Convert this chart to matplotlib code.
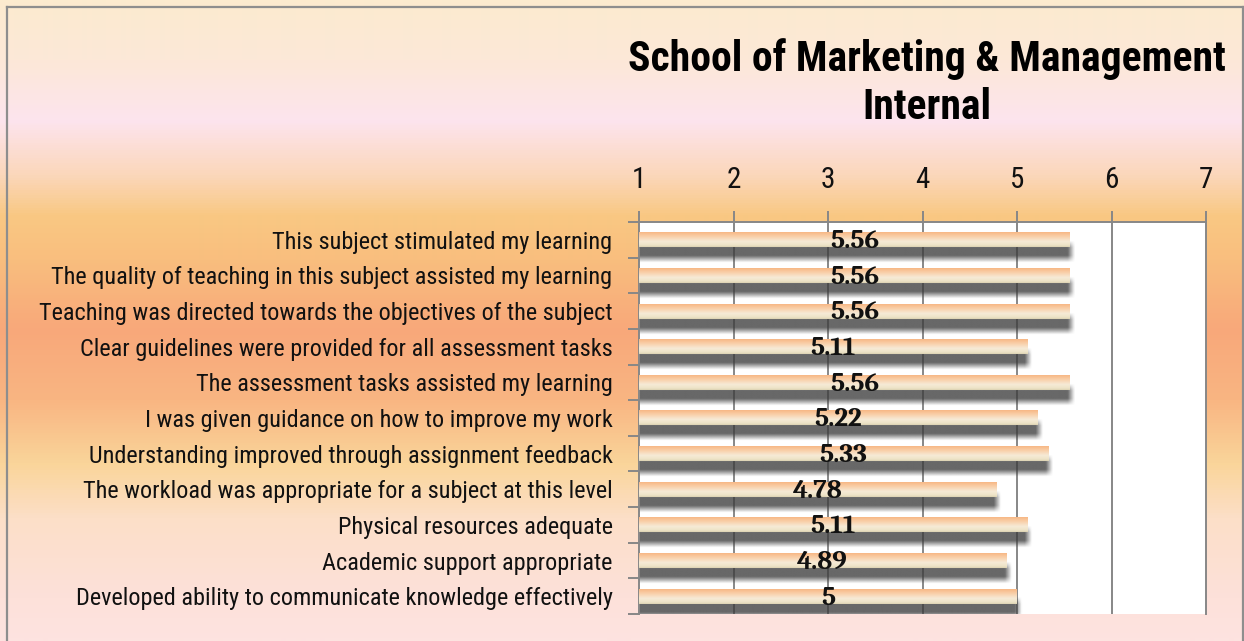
import numpy as np
import matplotlib
matplotlib.use("Agg")
import matplotlib.pyplot as plt
from matplotlib.colors import LinearSegmentedColormap, to_rgb
from matplotlib.lines import Line2D

# ---- data ----
categories = [
    "This subject stimulated my learning",
    "The quality of teaching in this subject assisted my learning",
    "Teaching was directed towards the objectives of the subject",
    "Clear guidelines were provided for all assessment tasks",
    "The assessment tasks assisted my learning",
    "I was given guidance on how to improve my work",
    "Understanding improved through assignment feedback",
    "The workload was appropriate for a subject at this level",
    "Physical resources adequate",
    "Academic support appropriate",
    "Developed ability to communicate knowledge effectively",
]
values = [5.56, 5.56, 5.56, 5.11, 5.56, 5.22, 5.33, 4.78, 5.11, 4.89, 5]
value_labels = ["5.56", "5.56", "5.56", "5.11", "5.56", "5.22", "5.33", "4.78", "5.11", "4.89", "5"]
x_ticks = [1, 2, 3, 4, 5, 6, 7]
title = "School of Marketing & Management\nInternal"

W, H, DPI = 1244, 641, 100
SANS = ["Roboto Condensed", "Archivo Narrow", "DejaVu Sans"]
SERIF = ["Caladea", "DejaVu Serif"]

fig = plt.figure(figsize=(W / DPI, H / DPI), dpi=DPI)

# ---- background gradient ----
bg = fig.add_axes([0, 0, 1, 1], zorder=-10)
stops_y = [0, 60, 120, 175, 215, 260, 330, 400, 465, 520, 600, 641]
stops_c = ["#FCEBCF", "#FCE8D8", "#FDE4EE", "#FBD7BA", "#F9C883", "#F9BE7E",
           "#F8A87A", "#F9B582", "#FAD59A", "#FCDFC8", "#FDE1DA", "#FDE3E0"]
bg_cmap = LinearSegmentedColormap.from_list("bg", list(zip([s / H for s in stops_y], stops_c)))
grad = np.linspace(0, 1, H).reshape(-1, 1)
bg.imshow(grad, cmap=bg_cmap, aspect="auto", extent=(0, 1, 1, 0), interpolation="bilinear")
bg.set_xlim(0, 1); bg.set_ylim(1, 0)
bg.axis("off")
# outer frame
fx0, fx1, fy0 = 6.5 / W, 1242.5 / W, 1 - 6.5 / H
for xs, ys in [([fx0, fx0], [0, fy0]), ([fx1, fx1], [0, fy0]), ([fx0, fx1], [fy0, fy0])]:
    fig.add_artist(Line2D(xs, ys, color="#8E8E8E", lw=1.6, transform=fig.transFigure))

# ---- main axes ----
ax = fig.add_axes([639 / W, (H - 614) / H, 567 / W, 392 / H])
ax.set_facecolor("white")
n = len(categories)
ypos = np.arange(n)
ax.set_xlim(x_ticks[0], x_ticks[-1])
ax.set_ylim(n - 0.5, -0.5)

grid_c = "#878787"
for xv in x_ticks[1:-1]:
    ax.axvline(xv, color=grid_c, lw=1.4, zorder=1)

bar_h = 0.42
bar_cmap = LinearSegmentedColormap.from_list(
    "bar", [(0, "#F7B886"), (0.3, "#F9D0AA"), (0.62, "#F6EAD6"), (0.88, "#EEE4C8"), (1.0, "#DDD3B3")])
bar_grad = np.linspace(0, 1, 40).reshape(-1, 1)

px_x = (x_ticks[-1] - x_ticks[0]) / 567.0
px_y = n / 392.0
sh_off = 12 * px_y
blur_x, blur_y = 3.5 * px_x, 3.5 * px_y

def ramp(t, a, b, s):
    return np.clip((t - (a - s)) / (2 * s), 0, 1) * np.clip(((b + s) - t) / (2 * s), 0, 1)

for i, (v, lab) in enumerate(zip(values, value_labels)):
    y0 = i - bar_h / 2
    y1 = i + bar_h / 2
    # shadow
    sx0, sx1 = x_ticks[0], v + 1.5 * px_x
    sy0, sy1 = y0 + sh_off, y1 + sh_off
    ex0, ex1 = sx0, sx1 + 2 * blur_x
    ey0, ey1 = sy0 - 2 * blur_y, sy1 + 2 * blur_y
    xs = np.linspace(ex0, ex1, 300)
    ys = np.linspace(ey0, ey1, 60)
    ax_ = np.clip((sx1 + blur_x - xs) / (2 * blur_x), 0, 1)
    ay_ = ramp(ys, sy0, sy1, blur_y)
    alpha = np.outer(ay_, ax_) * 0.78
    rgba = np.zeros((len(ys), len(xs), 4))
    rgba[..., :3] = to_rgb("#3C3C3C")
    rgba[..., 3] = alpha
    ax.imshow(rgba, extent=(ex0, ex1, ey1, ey0), origin="upper", aspect="auto",
              interpolation="bilinear", zorder=2)
    # bar body with vertical gradient
    ax.imshow(bar_grad, cmap=bar_cmap, extent=(x_ticks[0], v, y1, y0), origin="upper",
              aspect="auto", interpolation="bilinear", zorder=3)
    # value label
    ax.text((x_ticks[0] + v) / 2, i + 0.06, lab, ha="center", va="center",
            fontsize=19.5, fontweight="bold", family=SERIF, color="#111111", zorder=5)

ax.set_xlim(x_ticks[0], x_ticks[-1])
ax.set_ylim(n - 0.5, -0.5)

# x axis on top
ax.xaxis.tick_top()
ax.set_xticks(x_ticks)
ax.set_xticklabels([str(t) for t in x_ticks], fontsize=21, family=SANS, color="#111111")
ax.tick_params(axis="x", which="major", direction="out", length=8, width=1.4, color=grid_c, pad=12)

# y axis
ax.set_yticks(ypos)
ax.set_yticklabels(categories, fontsize=17.5, family=SANS, color="#111111")
ax.tick_params(axis="y", which="major", length=0, pad=19)
ax.set_yticks(np.arange(-0.5, n, 1.0), minor=True)
ax.tick_params(axis="y", which="minor", direction="out", length=8, width=1.4, color=grid_c)

for side in ["left", "top", "right"]:
    ax.spines[side].set_color(grid_c)
    ax.spines[side].set_linewidth(1.4)
ax.spines["bottom"].set_visible(False)

fig.text(927 / W, 1 - 83 / H, title, ha="center", va="center", fontsize=30,
         fontweight="bold", family=SANS, color="#000000", linespacing=1.2)

fig.savefig("out.png", dpi=DPI)
